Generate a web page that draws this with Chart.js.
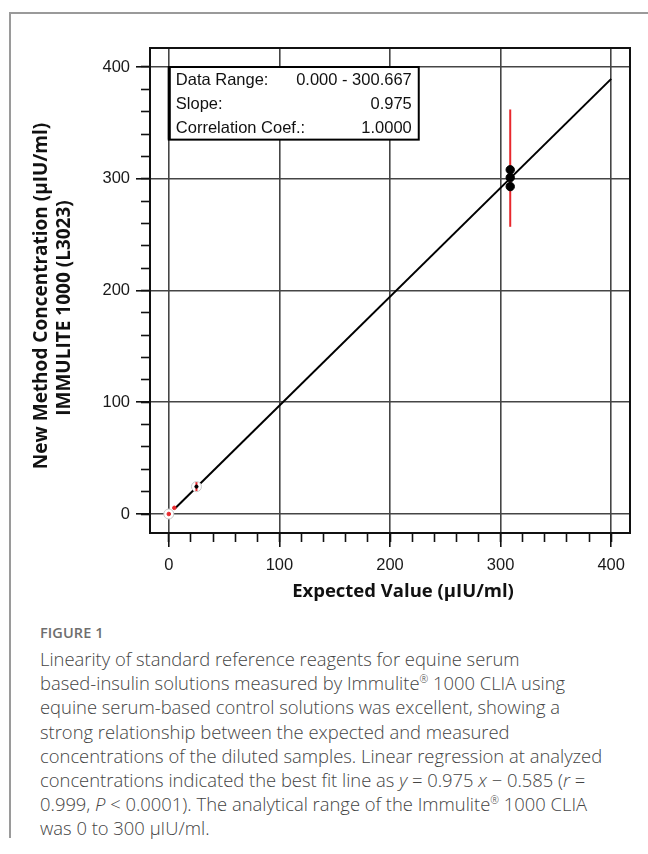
<!DOCTYPE html>
<html>
<head>
<meta charset="utf-8">
<script src="https://cdn.jsdelivr.net/npm/chart.js@4.4.1/dist/chart.umd.min.js"></script>
<style>
  html, body { margin: 0; padding: 0; background: #fff; }
  body { width: 648px; height: 854px; position: relative; overflow: hidden; }
  #frameTop { position: absolute; left: 9px; top: 12px; width: 650px; height: 0; border-top: 2px solid #9a9a9a; }
  #frameLeft { position: absolute; left: 9px; top: 12px; width: 0; height: 826px; border-left: 2px solid #9a9a9a; }
  #wrap { position: absolute; left: 0; top: 0; width: 648px; height: 620px; }
  #fig { position: absolute; left: 40px; top: 623px; font-family: "Open Sans", sans-serif; font-size: 14.5px; font-weight: 600; color: #6e6e6e; letter-spacing: 0.1px; }
  #cap { position: absolute; left: 40px; top: 647px; font-family: "Open Sans", sans-serif; font-weight: 300; font-size: 18.4px; line-height: 24.2px; color: #444; white-space: nowrap; }
  #cap sup { font-size: 10.5px; line-height: 0; vertical-align: 7px; }
  #cap i { font-style: italic; }
</style>
</head>
<body>
<div id="frameTop"></div>
<div id="frameLeft"></div>
<div id="wrap"><canvas id="c" width="648" height="620"></canvas></div>
<div id="fig">FIGURE 1</div>
<div id="cap">Linearity of standard reference reagents for equine serum<br>based-insulin solutions measured by Immulite<sup>®</sup> 1000 CLIA using<br>equine serum-based control solutions was excellent, showing a<br>strong relationship between the expected and measured<br>concentrations of the diluted samples. Linear regression at analyzed<br>concentrations indicated the best fit line as <i>y</i> = 0.975 <i>x</i> − 0.585 (<i>r</i> =<br>0.999, <i>P</i> &lt; 0.0001). The analytical range of the Immulite<sup>®</sup> 1000 CLIA<br>was 0 to 300 μIU/ml.</div>
<script>
// ---- data ----
const expectedHigh = [308.7, 308.7, 308.7];
const measuredHigh = [308, 301, 293];
const expectedLow = [0, 5];
const measuredLow = [0, 5.5];
const expectedMid = [25];
const measuredMid = [24.5];
const haloX = [0, 25];
const haloY = [0, 24.5];
const errBarX = [308.7, 25];
const errBarLow = [257, 20.5];
const errBarHigh = [362, 28.5];
const fitX = [6, 400];
const fitY = [5.3, 389.4];
const axisMin = -17;
const axisMax = 417;
const majorStep = 100;
const minorStep = 20;
const statLabels = ['Data Range:', 'Slope:', 'Correlation Coef.:'];
const statValues = ['0.000 - 300.667', '0.975', '1.0000'];
const xTitle = 'Expected Value (µIU/ml)';
const yTitleLines = ['New Method Concentration (µIU/ml)', 'IMMULITE 1000 (L3023)'];

const pts = (xs, ys) => xs.map((x, i) => ({ x: x, y: ys[i] }));
const RED = '#e8282d';

const datasets = [
  { type: 'scatter', data: pts(expectedHigh, measuredHigh), backgroundColor: '#000', borderColor: '#000', pointRadius: 4.2, order: 0 },
  { type: 'scatter', data: pts(expectedMid, measuredMid), backgroundColor: '#000', borderColor: '#000', pointRadius: 1.6, order: 0 },
  { type: 'scatter', data: pts(expectedLow, measuredLow), backgroundColor: RED, borderColor: RED, pointRadius: 1.8, order: 1 },
  { type: 'scatter', data: pts(haloX, haloY), backgroundColor: '#fff', borderColor: '#c8c8c8', borderWidth: 1, pointRadius: 5, order: 3 }
];
errBarX.forEach((x, i) => {
  datasets.push({ type: 'line', data: [{ x: x, y: errBarLow[i] }, { x: x, y: errBarHigh[i] }], borderColor: RED, borderWidth: 2, pointRadius: 0, order: 2 });
});
datasets.push({ type: 'line', data: pts(fitX, fitY), borderColor: '#000', borderWidth: 2, pointRadius: 0, order: 4 });

const font = '"Liberation Sans", Arial, sans-serif';

const decor = {
  id: 'decor',
  afterDraw(chart) {
    const ctx = chart.ctx, a = chart.chartArea, xs = chart.scales.x, ys = chart.scales.y;
    ctx.save();
    // stats box
    const bl = xs.getPixelForValue(0), br = xs.getPixelForValue(226);
    const bt = ys.getPixelForValue(400), bb = ys.getPixelForValue(335);
    ctx.fillStyle = '#fff';
    ctx.fillRect(bl, bt, br - bl, bb - bt);
    ctx.strokeStyle = '#000';
    ctx.lineWidth = 2;
    ctx.strokeRect(bl, bt, br - bl, bb - bt);
    ctx.lineWidth = 3;
    ctx.beginPath(); ctx.moveTo(bl + 0.5, bt); ctx.lineTo(bl + 0.5, bb); ctx.stroke();
    ctx.font = '16.5px ' + font;
    ctx.fillStyle = '#111';
    ctx.textBaseline = 'middle';
    const rowH = (bb - bt) / statLabels.length;
    statLabels.forEach((lab, i) => {
      const yy = bt + rowH * (i + 0.5) + 1;
      ctx.textAlign = 'left';
      ctx.fillText(lab, bl + 7, yy);
      ctx.textAlign = 'right';
      ctx.fillText(statValues[i], br - 7, yy);
    });
    // plot frame
    ctx.lineWidth = 2;
    ctx.strokeStyle = '#111';
    ctx.strokeRect(a.left, a.top, a.right - a.left, a.bottom - a.top);
    // axis titles
    ctx.fillStyle = '#111';
    ctx.textAlign = 'center';
    ctx.textBaseline = 'middle';
    ctx.font = 'bold 18.5px "Open Sans", sans-serif';
    ctx.fillText(xTitle, 403, 592);
    ctx.rotate(-Math.PI / 2);
    ctx.font = 'bold 19px "Open Sans", sans-serif';
    ctx.fillText(yTitleLines[0], -296, 42);
    ctx.fillText(yTitleLines[1], -308, 65);
    ctx.restore();
  }
};

const majorAxis = (pos, fit) => ({
  type: 'linear', position: pos, min: axisMin, max: axisMax, weight: 1,
  afterFit: fit,
  border: { display: false },
  grid: { color: '#454545', lineWidth: 1.6, tickLength: 14, tickColor: '#111', tickWidth: 1.6 },
  ticks: { stepSize: majorStep, includeBounds: false, color: '#1a1a1a', font: { family: font, size: 16.5 }, padding: pos === 'left' ? 6 : 9, maxRotation: 0 }
});
const minorAxis = (pos, fit) => ({
  type: 'linear', position: pos, min: axisMin, max: axisMax, weight: 0,
  afterFit: fit,
  border: { display: false },
  grid: { drawOnChartArea: false, tickLength: 9, tickColor: '#111', tickWidth: 1.6 },
  ticks: { stepSize: minorStep, includeBounds: false, display: false }
});

new Chart(document.getElementById('c'), {
  type: 'scatter',
  data: { datasets: datasets },
  options: {
    responsive: false,
    animation: false,
    layout: { padding: { top: 48, right: 18, bottom: 0, left: 0 } },
    plugins: { legend: { display: false }, tooltip: { enabled: false } },
    scales: {
      x: majorAxis('bottom', s => { s.height = 87; }),
      xMinor: minorAxis('bottom', s => { s.height = 0; }),
      y: majorAxis('left', s => { s.width = 150; }),
      yMinor: minorAxis('left', s => { s.width = 0; })
    }
  },
  plugins: [decor]
});
</script>
</body>
</html>
